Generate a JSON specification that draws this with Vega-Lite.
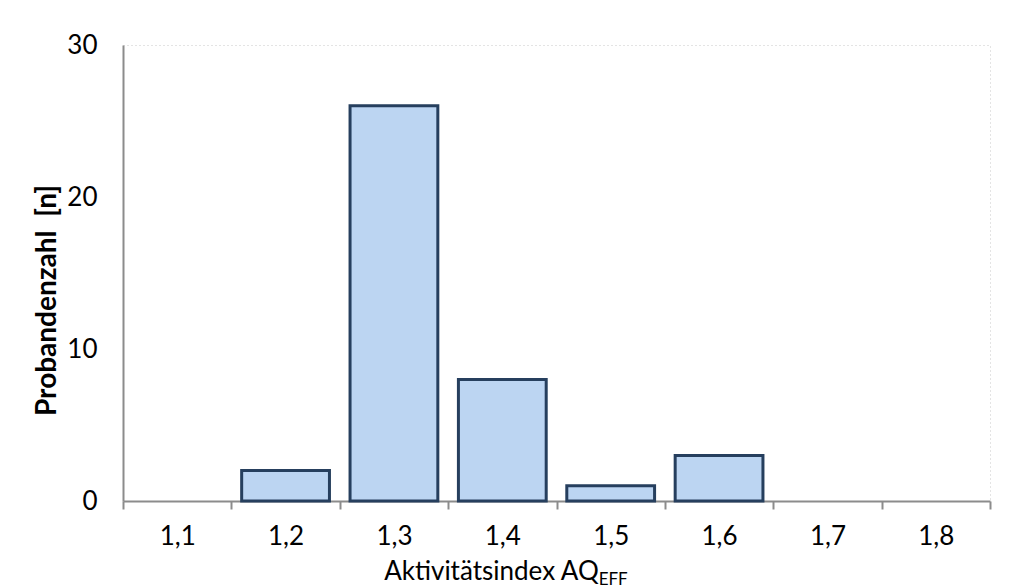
{
  "$schema": "https://vega.github.io/schema/vega-lite/v6.json",
  "width": 867,
  "height": 456,
  "autosize": {"type": "none"},
  "padding": {"left": 123, "top": 45, "right": 20, "bottom": 87},
  "background": "white",
  "config": {
    "view": {"stroke": "#c8c8c8", "strokeDash": [1, 3], "strokeWidth": 1},
    "font": "Lato"
  },
  "data": {
    "values": [
      {"index": "1,1", "n": 0},
      {"index": "1,2", "n": 2},
      {"index": "1,3", "n": 26},
      {"index": "1,4", "n": 8},
      {"index": "1,5", "n": 1},
      {"index": "1,6", "n": 3},
      {"index": "1,7", "n": 0},
      {"index": "1,8", "n": 0}
    ]
  },
  "encoding": {
    "x": {
      "field": "index",
      "type": "ordinal",
      "sort": null,
      "scale": {"paddingInner": 0, "paddingOuter": 0},
      "axis": {
        "title": "Aktivitätsindex AQ",
        "titleFont": "Lato",
        "titleFontSize": 26,
        "titleFontWeight": "normal",
        "titleColor": "#000000",
        "titleX": 368,
        "titleY": 78,
        "titleBaseline": "alphabetic",
        "labelAngle": 0,
        "labelFont": "Lato",
        "labelFontSize": 26,
        "labelColor": "#000000",
        "labelPadding": 14,
        "tickBand": "extent",
        "tickColor": "#8c8c8c",
        "tickWidth": 2,
        "tickSize": 8,
        "domainColor": "#8c8c8c",
        "domainWidth": 2
      }
    }
  },
  "layer": [
    {
      "mark": {"type": "bar", "fill": "#bcd5f2", "stroke": "#263f5e", "strokeWidth": 3, "width": {"band": 0.81}},
      "encoding": {
        "y": {
          "field": "n",
          "type": "quantitative",
          "scale": {"domain": [0, 30]},
          "axis": {
            "title": "Probandenzahl\u00a0\u00a0[n]",
            "titleFont": "Lato",
            "titleFontSize": 28,
            "titleFontWeight": "bold",
            "titleColor": "#000000",
            "titleAngle": -90,
            "titleX": -76,
            "titleY": 255,
            "titleAlign": "center",
            "titleBaseline": "middle",
            "values": [0, 10, 20, 30],
            "grid": false,
            "ticks": false,
            "labelFont": "Lato",
            "labelFontSize": 26,
            "labelColor": "#000000",
            "labelPadding": 26,
            "domainColor": "#8c8c8c",
            "domainWidth": 2
          }
        },
        "opacity": {"condition": {"test": "datum.n > 0", "value": 1}, "value": 0}
      }
    },
    {
      "data": {"values": [{"sub": "EFF"}]},
      "mark": {"type": "text", "font": "Lato", "fontSize": 17, "fontWeight": "normal", "align": "left", "baseline": "alphabetic", "color": "#000000", "dx": -12},
      "encoding": {
        "text": {"field": "sub"},
        "x": {"datum": "1,5"},
        "y": {"datum": -5.55}
      }
    }
  ]
}
